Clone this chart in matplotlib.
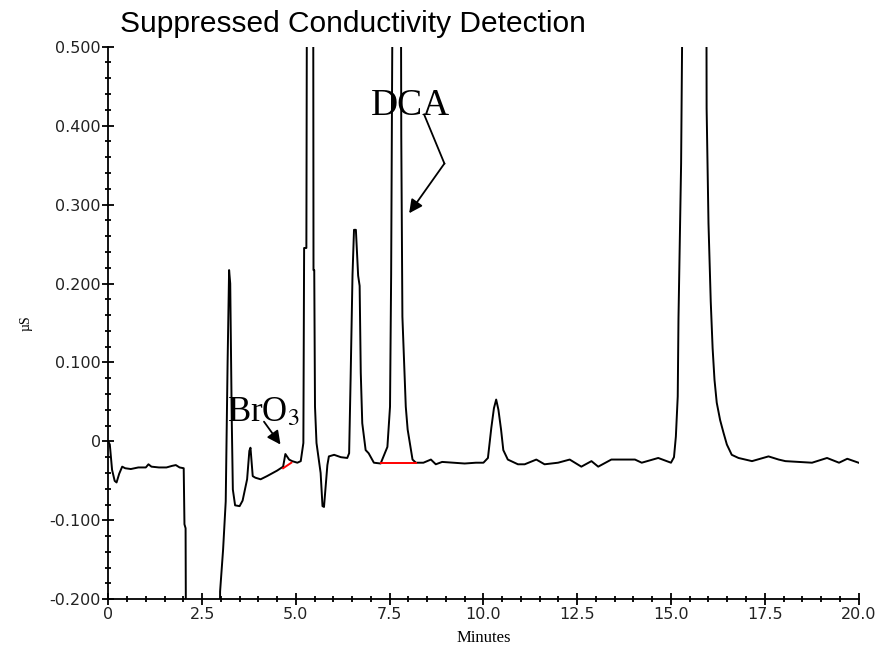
import matplotlib
matplotlib.use("Agg")
import matplotlib.pyplot as plt
from matplotlib.ticker import MultipleLocator, FixedLocator

# trace (minutes, uS)
minutes = [0.00, 0.04, 0.10, 0.17, 0.22, 0.29, 0.37, 0.45, 0.60, 0.80, 1.00, 1.07, 1.15,
           1.35, 1.55, 1.70, 1.80, 1.90, 2.01, 2.03, 2.06, 2.08, 2.95, 2.98, 3.06, 3.13,
           3.18, 3.22, 3.25, 3.29, 3.32, 3.38, 3.50, 3.58, 3.70, 3.76, 3.79, 3.85, 3.92,
           4.06, 4.23, 4.50, 4.66, 4.72, 4.82, 4.90, 5.04, 5.13, 5.20, 5.22, 5.28, 5.30,
           5.38, 5.46, 5.47, 5.49, 5.51, 5.55, 5.60, 5.66, 5.71, 5.75, 5.79, 5.84, 5.88,
           6.02, 6.20, 6.37, 6.42, 6.46, 6.51, 6.55, 6.60, 6.66, 6.70, 6.73, 6.77, 6.86,
           6.94, 7.08, 7.26, 7.44, 7.51, 7.54, 7.58, 7.69, 7.80, 7.81, 7.84, 7.93, 7.98,
           8.11, 8.20, 8.40, 8.60, 8.73, 8.90, 9.20, 9.50, 9.80, 10.00, 10.12, 10.21, 10.28,
           10.34, 10.40, 10.47, 10.53, 10.65, 10.92, 11.10, 11.41, 11.63, 11.99, 12.30,
           12.61, 12.88, 13.06, 13.41, 14.04, 14.22, 14.66, 15.00, 15.08, 15.13, 15.18,
           15.20, 15.27, 15.33, 15.60, 15.94, 15.95, 16.00, 16.06, 16.11, 16.16, 16.22,
           16.31, 16.40, 16.49, 16.62, 16.80, 17.16, 17.60, 17.87, 18.05, 18.76, 19.16,
           19.48, 19.70, 20.00]
signal = [0.000, -0.004, -0.036, -0.050, -0.052, -0.041, -0.032, -0.034, -0.035, -0.033,
          -0.033, -0.029, -0.032, -0.033, -0.033, -0.031, -0.030, -0.033, -0.034, -0.105,
          -0.110, -0.400, -0.400, -0.190, -0.137, -0.076, 0.100, 0.217, 0.200, 0.030,
          -0.061, -0.081, -0.082, -0.075, -0.048, -0.012, -0.008, -0.044, -0.046, -0.048,
          -0.044, -0.037, -0.032, -0.016, -0.023, -0.025, -0.027, -0.025, -0.002, 0.245,
          0.245, 0.700, 1.100, 0.700, 0.217, 0.217, 0.044, -0.002, -0.019, -0.040, -0.082,
          -0.083, -0.060, -0.030, -0.019, -0.017, -0.020, -0.021, -0.015, 0.081, 0.211,
          0.268, 0.268, 0.210, 0.197, 0.087, 0.023, -0.011, -0.015, -0.027, -0.028, -0.007,
          0.044, 0.211, 0.600, 1.000, 0.600, 0.387, 0.158, 0.044, 0.015, -0.023, -0.027,
          -0.027, -0.023, -0.029, -0.026, -0.027, -0.028, -0.027, -0.027, -0.021, 0.017,
          0.042, 0.053, 0.040, 0.015, -0.011, -0.023, -0.029, -0.029, -0.023, -0.029,
          -0.027, -0.023, -0.032, -0.025, -0.032, -0.023, -0.023, -0.027, -0.021, -0.027,
          -0.020, 0.006, 0.057, 0.156, 0.352, 0.700, 1.200, 0.700, 0.422, 0.276, 0.177,
          0.118, 0.078, 0.049, 0.027, 0.011, -0.004, -0.017, -0.021, -0.025, -0.019,
          -0.023, -0.025, -0.027, -0.021, -0.027, -0.022, -0.027]

# integration baselines (red)
bro3_base_t = [4.66, 4.88]
bro3_base_v = [-0.034, -0.027]
dca_base_t = [7.26, 8.20]
dca_base_v = [-0.027, -0.027]

ytick_vals = [-0.2, -0.1, 0.0, 0.1, 0.2, 0.3, 0.4, 0.5]
ytick_labels = ["-0.200", "-0.100", "0", "0.100", "0.200", "0.300", "0.400", "0.500"]
xtick_vals = [0, 2.5, 5.0, 7.5, 10.0, 12.5, 15.0, 17.5, 20.0]
xtick_labels = ["0", "2.5", "5.0", "7.5", "10.0", "12.5", "15.0", "17.5", "20.0"]

plt.rcParams['mathtext.fontset'] = 'stix'

fig = plt.figure(figsize=(8.82, 6.63), dpi=100)
ax = fig.add_axes([0.1228, 0.0961, 0.8506, 0.8335])

ax.plot(minutes, signal, color='black', lw=1.4)
ax.plot(bro3_base_t, bro3_base_v, color='red', lw=1.4)
ax.plot(dca_base_t, dca_base_v, color='red', lw=1.4)

ax.set_xlim(0, 20)
ax.set_ylim(-0.2, 0.5)
for s in ['top', 'right']:
    ax.spines[s].set_visible(False)
ax.spines['left'].set_linewidth(1.3)
ax.spines['bottom'].set_linewidth(1.3)

ax.yaxis.set_major_locator(FixedLocator(ytick_vals))
ax.set_yticklabels(ytick_labels)
ax.yaxis.set_minor_locator(MultipleLocator(0.02))
ax.xaxis.set_major_locator(FixedLocator(xtick_vals))
ax.set_xticklabels(xtick_labels)
ax.xaxis.set_minor_locator(MultipleLocator(0.5))
ax.tick_params(which='major', direction='inout', length=9, width=1.3, labelsize=11.5,
               labelcolor='#222222', pad=1)
ax.tick_params(which='minor', direction='inout', length=5, width=1.3)

ax.set_xlabel("Minutes", family='Liberation Serif', fontsize=12, labelpad=6)
ax.set_ylabel("µS", family='Liberation Serif', fontsize=10, labelpad=12)

fig.text(120 / 882, 1 - 32 / 663, "Suppressed Conductivity Detection",
         family='Liberation Sans', fontsize=21.5, va='baseline')

# peak labels
ax.text(7.0, 0.414, "DCA", family='Liberation Serif', fontsize=27, va='baseline')
ax.plot([8.42, 8.96], [0.414, 0.352], color='black', lw=1.3)
ax.annotate("", xy=(8.02, 0.289), xytext=(8.96, 0.352),
            arrowprops=dict(arrowstyle='-|>', color='black', lw=1.3, mutation_scale=20,
                            shrinkA=0, shrinkB=0))

ax.text(3.17, 0.025, "BrO$_3$", family='Liberation Serif', fontsize=25, va='baseline')
ax.annotate("", xy=(4.59, -0.004), xytext=(4.15, 0.025),
            arrowprops=dict(arrowstyle='-|>', color='black', lw=1.3, mutation_scale=20,
                            shrinkA=0, shrinkB=0))

fig.savefig("out.png", dpi=100)
